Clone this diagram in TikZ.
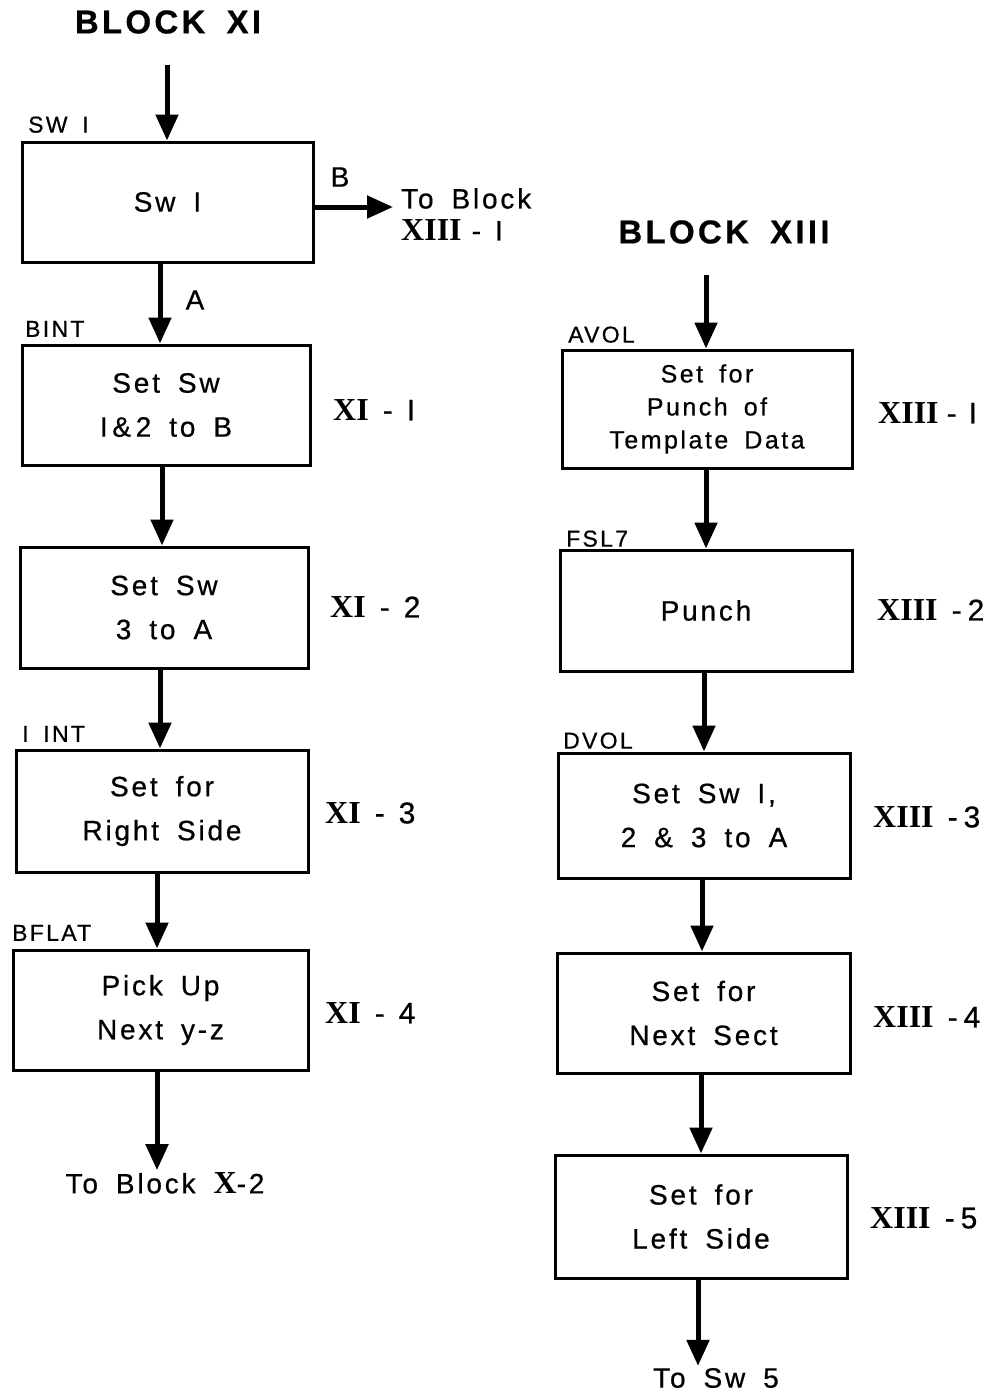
\documentclass[tikz,border=0pt]{standalone}
\usepackage{fontspec}
\setmainfont{Liberation Sans}[LetterSpace=10, WordSpace=1.7, FakeBold=0.6]
\newfontfamily\plainsans{Liberation Sans}[FakeBold=0.6]
\newfontfamily\romnum{Liberation Serif}
\usetikzlibrary{arrows.meta,positioning}
\newcommand{\blocknum}[1]{{\romnum\bfseries\fontsize{32}{32}\selectfont #1}}
\newcommand{\refnum}[2]{\blocknum{#1}\hspace{14pt}-\hspace{14pt}#2}

\begin{document}
\begin{tikzpicture}[
    x=1pt, y=-1pt,
    proc/.style={draw, line width=3pt, minimum width=290pt, minimum height=120pt, inner sep=0pt, align=center, font=\fontsize{28}{44}\selectfont},
    tag/.style={anchor=south west, inner sep=0pt, font=\fontsize{23}{26}\selectfont},
    blockref/.style={anchor=west, inner sep=0pt, font=\plainsans\fontsize{30}{32}\selectfont},
    title/.style={inner sep=0pt, font=\fontsize{33}{40}\selectfont\bfseries},
    flow/.style={line width=5pt, -{Triangle[length=26pt,width=22pt]}}
  ]
  \useasboundingbox (0,0) rectangle (987,1395);

  % block XI
  \node[title] (titleXI) at (168,22) {BLOCK XI};
  \coordinate (inXI) at (167,65);
  \node[proc, minimum width=291pt] (sw1) at (167.5,202) {Sw I};
  \node[tag] (tagsw1) at (28,133) {SW I};
  \node[proc, minimum width=288pt] (bint) at (166,405) {Set Sw\\I\,\&\,2 to B};
  \node[tag] (tagbint) at (25,337) {BINT};
  \node[proc, minimum width=288pt, minimum height=121pt] (setsw3) at (164,607.5) {Set Sw\\3 to A};
  \node[proc, minimum width=292pt, minimum height=122pt] (rside) at (162,811) {Set for\\Right Side};
  \node[tag] (tagiint) at (22,742) {I INT};
  \node[proc, minimum width=295pt] (pickup) at (160.5,1010) {Pick Up\\Next y-z};
  \node[tag] (tagbflat) at (12,941) {BFLAT};
  \node[inner sep=2pt, font=\fontsize{28}{30}\selectfont] (toX) at (165,1183) {To Block \blocknum{X}-2};

  \node[blockref] (refXIa) at (333,410) {\refnum{XI}{I}};
  \node[blockref] (refXIb) at (330,607) {\refnum{XI}{2}};
  \node[blockref] (refXIc) at (325,813) {\refnum{XI}{3}};
  \node[blockref] (refXId) at (325,1013) {\refnum{XI}{4}};

  \coordinate (bout) at (393,207);
  \node[anchor=north west, inner sep=0pt, align=left, font=\fontsize{28}{32}\selectfont] (toXIII) at (401,188) {To Block\\\blocknum{XIII}\hspace{10pt}-\hspace{14pt}I};
  \node[font=\fontsize{28}{30}\selectfont] (labB) at (340,177) {B};
  \node[font=\fontsize{28}{30}\selectfont] (labA) at (195,300) {A};

  \draw[flow] (inXI) -- (inXI |- sw1.north);
  \draw[flow] (sw1.east |- bout) -- (bout);
  \draw[flow] (sw1.south -| 160,0) -- (bint.north -| 160,0);
  \draw[flow] (bint.south -| 162,0) -- (setsw3.north -| 162,0);
  \draw[flow] (setsw3.south -| 160,0) -- (rside.north -| 160,0);
  \draw[flow] (rside.south -| 157,0) -- (pickup.north -| 157,0);
  \draw[flow] (pickup.south -| 157,0) -- (toX.north -| 157,0);

  % block XIII
  \node[title] (titleXIII) at (724,232) {BLOCK XIII};
  \coordinate (inXIII) at (706,275);
  \node[proc, minimum height=118pt, font=\fontsize{25}{33}\selectfont] (avol) at (707,409) {Set for\\Punch of\\Template Data};
  \node[tag] (tagavol) at (568,343) {AVOL};
  \node[proc, minimum width=292pt, minimum height=121pt] (punch) at (706,610.5) {Punch};
  \node[tag] (tagfsl) at (566,547) {FSL7};
  \node[proc, minimum width=292pt, minimum height=125pt] (dvol) at (704,815.5) {Set Sw I,\\2 \& 3 to A};
  \node[tag] (tagdvol) at (563,749) {DVOL};
  \node[proc, minimum width=293pt] (nsect) at (703.5,1013) {Set for\\Next Sect};
  \node[proc, minimum width=292pt, minimum height=123pt] (lside) at (701,1216.5) {Set for\\Left Side};
  \node[inner sep=2pt, font=\fontsize{28}{30}\selectfont] (tosw) at (716,1378) {To Sw 5};

  \node[blockref] (refXIIIa) at (878,413) {\blocknum{XIII}\hspace{8pt}-\hspace{12pt}I};
  \node[blockref] (refXIIIb) at (877,610) {\blocknum{XIII}\hspace{14pt}-\hspace{6pt}2};
  \node[blockref] (refXIIIc) at (873,817) {\blocknum{XIII}\hspace{14pt}-\hspace{6pt}3};
  \node[blockref] (refXIIId) at (873,1017) {\blocknum{XIII}\hspace{14pt}-\hspace{6pt}4};
  \node[blockref] (refXIIIe) at (870,1218) {\blocknum{XIII}\hspace{14pt}-\hspace{6pt}5};

  \draw[flow] (inXIII) -- (inXIII |- avol.north);
  \draw[flow] (avol.south -| 706,0) -- (punch.north -| 706,0);
  \draw[flow] (punch.south -| 704,0) -- (dvol.north -| 704,0);
  \draw[flow] (dvol.south -| 702,0) -- (nsect.north -| 702,0);
  \draw[flow] (nsect.south -| 701,0) -- (lside.north -| 701,0);
  \draw[flow] (lside.south -| 698,0) -- (tosw.north -| 698,0);
\end{tikzpicture}
\end{document}
